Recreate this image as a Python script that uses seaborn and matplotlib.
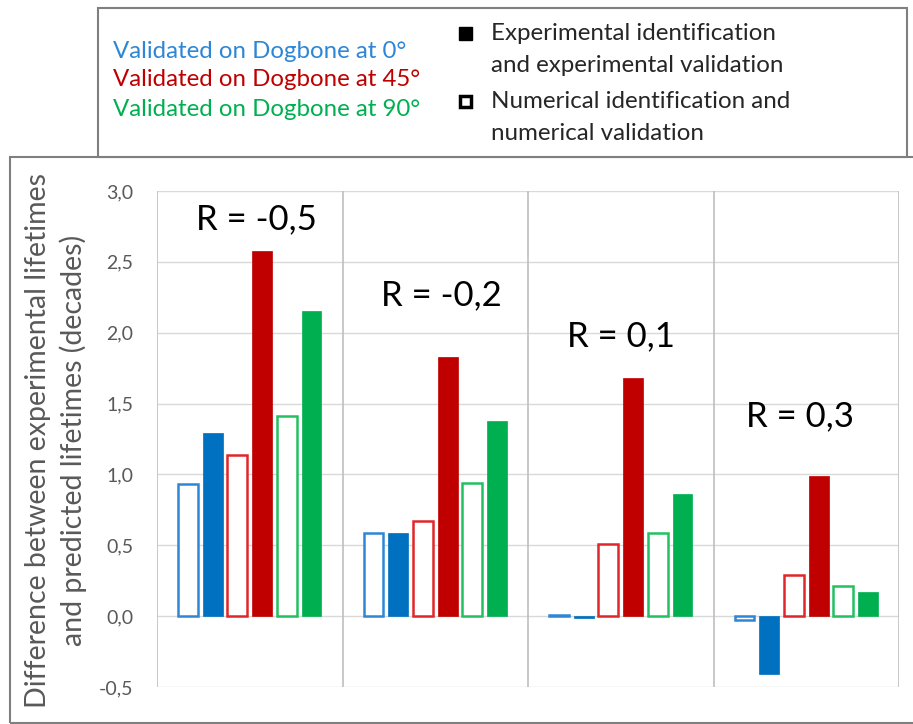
import pandas as pd
import matplotlib.pyplot as plt
import seaborn as sns
from matplotlib.patches import Rectangle

# data
groups = ['R = -0,5', 'R = -0,2', 'R = 0,1', 'R = 0,3']
series = ['num 0', 'exp 0', 'num 45', 'exp 45', 'num 90', 'exp 90']
num_0 = [0.93, 0.59, 0.01, -0.03]
exp_0 = [1.29, 0.59, -0.01, -0.41]
num_45 = [1.14, 0.67, 0.51, 0.29]
exp_45 = [2.58, 1.83, 1.68, 0.99]
num_90 = [1.41, 0.94, 0.59, 0.21]
exp_90 = [2.15, 1.38, 0.86, 0.17]
yticks = [-0.5, 0.0, 0.5, 1.0, 1.5, 2.0, 2.5, 3.0]

rows = []
for name, vals in zip(series, [num_0, exp_0, num_45, exp_45, num_90, exp_90]):
    for g, v in zip(groups, vals):
        rows.append({'group': g, 'series': name, 'value': v})
df = pd.DataFrame(rows)

fill_colors = {'num 0': '#2e86d6', 'exp 0': '#0070c0', 'num 45': '#e0262b', 'exp 45': '#c00000',
               'num 90': '#22c060', 'exp 90': '#00b050'}

sns.set_style('white')
plt.rcParams['font.family'] = ['Lato', 'DejaVu Sans']

W, H = 913, 724
fig = plt.figure(figsize=(W / 100, H / 100), dpi=100)

def fx(px):
    return px / W

def fy(py):
    return 1 - py / H

ax = fig.add_axes([fx(157), fy(687), fx(899) - fx(157), fy(191) - fy(687)])
sns.barplot(data=df, x='group', y='value', hue='series', hue_order=series, order=groups,
            palette=fill_colors, width=0.8, gap=0.2, ax=ax, legend=False, saturation=1)

# open bars = numerical identification
for container, name in zip(ax.containers, series):
    for bar in container:
        if name.startswith('num'):
            bar.set_facecolor('white')
            bar.set_edgecolor(fill_colors[name])
            bar.set_linewidth(1.8)
        else:
            bar.set_edgecolor(fill_colors[name])
            bar.set_linewidth(0.5)

ax.set_xlim(-0.5, 3.5)
ax.set_ylim(-0.5, 3.0)
ax.set_yticks(yticks)
ax.set_yticklabels([f'{t:.1f}'.replace('.', ',') for t in yticks], fontsize=14, color='#595959')
ax.tick_params(axis='y', length=0, pad=17)
ax.set_xticks([])
ax.set_xlabel('')
ax.set_ylabel('')
for y in yticks:
    ax.axhline(y, color='#d9d9d9', lw=1, zorder=0)
for x in [-0.5, 0.5, 1.5, 2.5, 3.5]:
    ax.axvline(x, color='#bfbfbf', lw=1.2, zorder=0)
for s in ax.spines.values():
    s.set_visible(False)

# R labels
r_pos = [(256, 219), (441, 295), (621, 336), (800, 416)]
for g, (px, py) in zip(groups, r_pos):
    fig.text(fx(px), fy(py), g, fontsize=25, ha='center', va='center', color='black')

# y label
fig.text(fx(38), fy(440), 'Difference between experimental lifetimes', rotation=90,
         fontsize=20.5, color='#595959', ha='center', va='center')
fig.text(fx(73), fy(440), 'and predicted lifetimes (decades)', rotation=90,
         fontsize=20.5, color='#595959', ha='center', va='center')

# outer frame and legend box
fig.add_artist(Rectangle((fx(10), fy(723)), fx(930) - fx(10), fy(157) - fy(723),
                         transform=fig.transFigure, fill=False, ec='#7f7f7f', lw=1.5))
fig.add_artist(Rectangle((fx(98), fy(157)), fx(907) - fx(98), fy(8) - fy(157),
                         transform=fig.transFigure, fc='white', ec='#7f7f7f', lw=1.5, zorder=5))

leg_txt = [('Validated on Dogbone at 0°', '#2e86d6', 51),
           ('Validated on Dogbone at 45°', '#c00000', 80),
           ('Validated on Dogbone at 90°', '#00b050', 110)]
for t, c, py in leg_txt:
    fig.text(fx(113), fy(py), t, color=c, fontsize=17.3, va='center', zorder=6)

fig.add_artist(Rectangle((fx(459), fy(40)), fx(13), 13 / H, transform=fig.transFigure,
                         fc='black', ec='black', lw=1, zorder=6))
fig.add_artist(Rectangle((fx(460), fy(107)), fx(11), 11 / H, transform=fig.transFigure,
                         fc='white', ec='black', lw=2.5, zorder=6))
for t, py in [('Experimental identification', 33), ('and experimental validation', 65),
              ('Numerical identification and', 101), ('numerical validation', 133)]:
    fig.text(fx(491), fy(py), t, color='#262626', fontsize=17.4, va='center', zorder=6)

fig.savefig('out.png', dpi=100)
